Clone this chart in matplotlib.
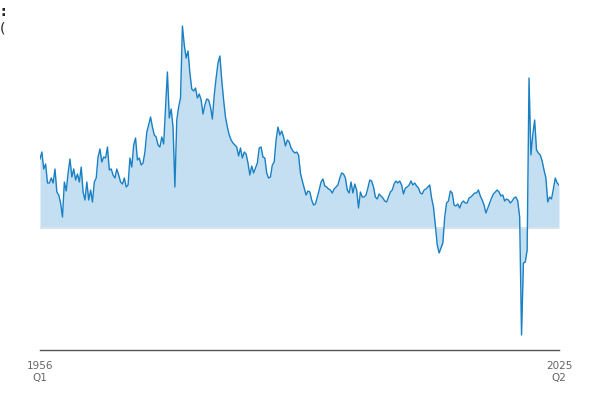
import matplotlib
matplotlib.use("Agg")
import matplotlib.pyplot as plt
import numpy as np

# Quarterly values, 1956 Q1 to 2025 Q2 (arbitrary units)
v1956_1965 = [69, 76, 59, 64, 45, 45, 50, 45, 59, 36, 33, 25, 11, 46, 37, 55, 69, 51, 59, 48,
              54, 46, 61, 36, 28, 46, 28, 38, 26, 46, 50, 71, 79, 66, 71, 70, 81, 58, 59, 53]
v1966_1975 = [50, 59, 53, 46, 44, 50, 41, 43, 70, 61, 83, 90, 68, 70, 63, 65, 76, 96, 103, 111,
              101, 93, 91, 83, 81, 91, 84, 120, 156, 110, 119, 101, 41, 108, 121, 130, 202, 183, 170, 177]
v1976_1985 = [155, 139, 137, 140, 130, 134, 128, 114, 123, 129, 128, 121, 109, 133, 150, 165, 172, 148, 128, 111,
              101, 93, 88, 85, 83, 81, 72, 80, 70, 76, 74, 65, 53, 62, 55, 60, 65, 80, 81, 71]
v1986_1995 = [70, 55, 50, 51, 63, 66, 88, 101, 93, 97, 91, 82, 88, 86, 80, 77, 75, 76, 73, 55,
              47, 40, 33, 37, 36, 28, 23, 24, 31, 38, 46, 49, 42, 41, 39, 38, 35, 39, 41, 43]
v1996_2005 = [50, 55, 54, 50, 38, 35, 46, 35, 44, 38, 20, 36, 31, 31, 33, 40, 48, 47, 41, 31,
              29, 34, 32, 30, 27, 26, 31, 36, 38, 44, 47, 45, 47, 43, 34, 40, 41, 43, 47, 43]
v2006_2015 = [45, 42, 40, 35, 34, 38, 39, 41, 43, 30, 21, 3, -17, -25, -20, -15, 11, 25, 27, 37,
              35, 23, 22, 24, 20, 25, 27, 25, 25, 30, 31, 33, 35, 35, 38, 32, 28, 23, 15, 20]
v2016_2025 = [25, 30, 34, 36, 38, 36, 32, 33, 27, 29, 28, 25, 27, 30, 31, 27, 11, -107, -35, -34,
              -22, 150, 73, 93, 108, 78, 75, 73, 67, 58, 50, 26, 31, 29, 39, 50, 45, 43]

tick_labels = ["1956\nQ1", "2025\nQ2"]

values = np.array(v1956_1965 + v1966_1975 + v1976_1985 + v1986_1995
                  + v1996_2005 + v2006_2015 + v2016_2025)
x = np.arange(len(values))

fig = plt.figure(figsize=(6, 4), dpi=100)
ax = fig.add_axes([40 / 600, 50 / 400, 519 / 600, 330 / 400])

ax.fill_between(x, values, 0, color="#c3dff1", lw=0)
ax.axhline(0, color="#d8e4ec", lw=1.5, zorder=1.5)
ax.plot(x, values, color="#1a80c4", lw=1)

ax.set_xlim(0, len(values) - 1)
ax.set_ylim(-122, 208)
ax.set_xticks([0, len(values) - 1])
ax.set_xticklabels(tick_labels, fontsize=7.5, color="#666666", linespacing=1.25)
ax.tick_params(axis="x", length=0, pad=8)
ax.set_yticks([])
for side in ["top", "right", "left"]:
    ax.spines[side].set_visible(False)
ax.spines["bottom"].set_color("#555555")
ax.spines["bottom"].set_linewidth(1)

fig.text(0.0, 1 - 12 / 400, ":", fontsize=10, color="#222222", va="center", ha="left",
         fontweight="bold")
fig.text(0.0, 1 - 28 / 400, "(", fontsize=10, color="#222222", va="center", ha="left")

fig.savefig("out.png", dpi=100)
